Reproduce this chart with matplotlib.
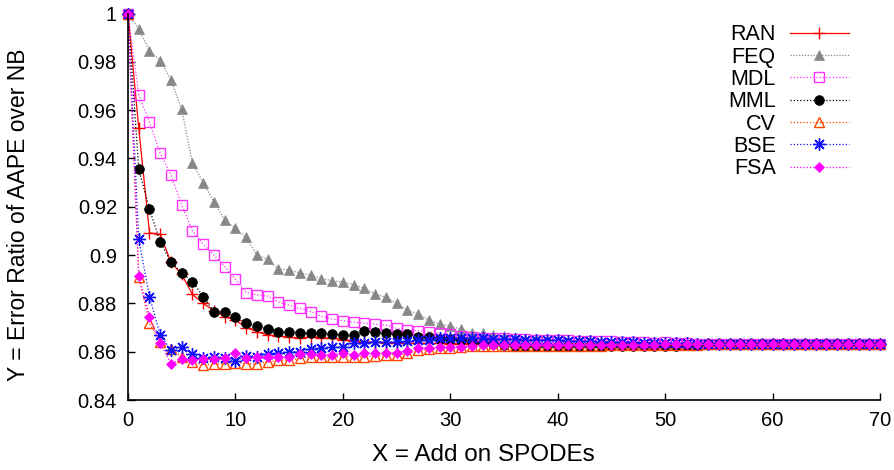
import matplotlib
matplotlib.use("Agg")
import matplotlib.pyplot as plt
from matplotlib.ticker import FuncFormatter, MultipleLocator

plt.rcParams['font.family'] = ['Liberation Sans', 'DejaVu Sans']

x = list(range(0, 71))

tail = [0.863] * 17  # x = 54..70

ran = [1.0, 0.9526, 0.9092, 0.9086, 0.897, 0.892, 0.8837, 0.880, 0.877, 0.8745,
       0.873, 0.870, 0.8683, 0.8669, 0.8665, 0.866, 0.8655, 0.8662, 0.8658, 0.8655,
       0.865, 0.8645, 0.8641, 0.864, 0.8638, 0.8636, 0.8635, 0.8635, 0.8634, 0.8634,
       0.8633, 0.8633, 0.8633, 0.8632, 0.8632, 0.8632, 0.8632, 0.8631, 0.8631, 0.8631,
       0.8631, 0.8631, 0.8631, 0.8630, 0.8630, 0.8630, 0.8630, 0.8630, 0.8630, 0.8630,
       0.8630, 0.8630, 0.8630, 0.8630] + tail

feq = [1.0, 0.9936, 0.9846, 0.9805, 0.9725, 0.9603, 0.938, 0.930, 0.922, 0.9145,
       0.911, 0.9073, 0.900, 0.8983, 0.8942, 0.8938, 0.8926, 0.8917, 0.8902, 0.8894,
       0.8887, 0.8878, 0.8862, 0.8839, 0.8825, 0.880, 0.8772, 0.8756, 0.8731, 0.8714,
       0.8706, 0.8693, 0.8679, 0.8676, 0.8670, 0.8663, 0.8658, 0.8654, 0.8651, 0.8649,
       0.8647, 0.8645, 0.8643, 0.8641, 0.8639, 0.8637, 0.8636, 0.8635, 0.8634, 0.8633,
       0.8632, 0.8631, 0.8631, 0.8630] + tail

mdl = [1.0, 0.9663, 0.955, 0.9421, 0.9331, 0.9207, 0.910, 0.9044, 0.900, 0.8952,
       0.890, 0.8844, 0.8835, 0.883, 0.8806, 0.8792, 0.8779, 0.8766, 0.8747, 0.8735,
       0.8728, 0.8723, 0.8718, 0.8714, 0.871, 0.8697, 0.869, 0.8687, 0.8683, 0.8676,
       0.8673, 0.8666, 0.8662, 0.8658, 0.8658, 0.8655, 0.8653, 0.8652, 0.865, 0.865,
       0.8648, 0.8647, 0.8646, 0.8645, 0.8644, 0.8643, 0.8642, 0.864, 0.864, 0.8638,
       0.8640, 0.8636, 0.8635, 0.8633] + tail

mml = [1.0, 0.9356, 0.919, 0.9055, 0.897, 0.8927, 0.889, 0.8828, 0.8765, 0.8765,
       0.8745, 0.8717, 0.8706, 0.8694, 0.8683, 0.8683, 0.8679, 0.8677, 0.8677, 0.8675,
       0.867, 0.8668, 0.8686, 0.868, 0.8676, 0.8672, 0.8672, 0.8662, 0.866, 0.8653,
       0.8653, 0.8648, 0.8641, 0.8635, 0.863, 0.8627, 0.8625, 0.8624, 0.8623, 0.8622,
       0.8622, 0.8622, 0.8622, 0.8622, 0.8622, 0.8622, 0.8622, 0.8622, 0.8622, 0.8622,
       0.8624, 0.8625, 0.8626, 0.8628] + tail

cv = [1.0, 0.891, 0.8717, 0.864, 0.8612, 0.8578, 0.8558, 0.8544, 0.855, 0.855,
      0.8555, 0.855, 0.855, 0.8558, 0.8564, 0.8566, 0.8572, 0.858, 0.8576, 0.8576,
      0.858, 0.858, 0.858, 0.8583, 0.8585, 0.8588, 0.8595, 0.8605, 0.861, 0.8614,
      0.8617, 0.862, 0.8622, 0.8624, 0.8623, 0.8623, 0.8623, 0.8623, 0.8624, 0.8624,
      0.8624, 0.8624, 0.8625, 0.8625, 0.8625, 0.8626, 0.8626, 0.8626, 0.8627, 0.8627,
      0.8628, 0.8628, 0.8629, 0.8629] + tail

bse = [1.0, 0.9065, 0.8827, 0.8669, 0.8607, 0.862, 0.859, 0.8572, 0.8579, 0.8572,
       0.856, 0.8583, 0.858, 0.859, 0.8593, 0.86, 0.86, 0.861, 0.8614, 0.8618,
       0.862, 0.8635, 0.8636, 0.864, 0.864, 0.8641, 0.8643, 0.8648, 0.8648, 0.8655,
       0.8655, 0.8655, 0.8655, 0.8655, 0.8653, 0.8652, 0.8651, 0.865, 0.865, 0.8649,
       0.8647, 0.8645, 0.8644, 0.8643, 0.8642, 0.8641, 0.864, 0.8639, 0.8638, 0.8637,
       0.8636, 0.8635, 0.8634, 0.8633] + tail

fsa = [1.0, 0.8913, 0.8745, 0.8635, 0.855, 0.857, 0.8565, 0.857, 0.857, 0.8575,
       0.8596, 0.8572, 0.858, 0.858, 0.858, 0.858, 0.8589, 0.8589, 0.8587, 0.8586,
       0.8593, 0.8588, 0.8593, 0.8593, 0.8593, 0.8596, 0.8604, 0.8614, 0.8614, 0.8618,
       0.862, 0.862, 0.8624, 0.8628, 0.8628, 0.8628, 0.8628, 0.8628, 0.8628, 0.8628,
       0.8628, 0.8628, 0.8628, 0.8628, 0.8629, 0.8629, 0.8629, 0.8629, 0.8629, 0.8629,
       0.8630, 0.8630, 0.8630, 0.8630] + tail

labels = ["RAN", "FEQ", "MDL", "MML", "CV", "BSE", "FSA"]
series = [ran, feq, mdl, mml, cv, bse, fsa]

dot = (0, (1, 1.6))
styles = [
    dict(color="#ff0000", ls="-", marker="+", ms=8, mew=1.0, mfc="#ff0000"),
    dict(color="#888888", ls=(0, (1, 1.3)), marker="^", ms=6.5, mew=0.5, mfc="#888888"),
    dict(color="#ff33ff", ls=dot, marker="s", ms=7, mew=1.0, mfc="none"),
    dict(color="#000000", ls=dot, marker="o", ms=7, mew=0.5, mfc="#000000"),
    dict(color="#ff4500", ls=dot, marker="^", ms=7, mew=1.0, mfc="none"),
    dict(color="#1010ff", ls=dot, marker=(8, 2, 0), ms=9, mew=1.0, mfc="#1010ff"),
    dict(color="#ff00ff", ls=dot, marker="D", ms=5.5, mew=0.5, mfc="#ff00ff"),
]

fig = plt.figure(figsize=(8.94, 4.70), dpi=100)
ax = fig.add_axes([128 / 894, 1 - 400 / 470, (880 - 128) / 894, (400 - 13.5) / 470])

for lab, ys, st in zip(labels, series, styles):
    ax.plot(x, ys, label=lab, lw=0.9, color=st["color"], linestyle=st["ls"],
            marker=st["marker"], markersize=st["ms"], markeredgewidth=st["mew"],
            markerfacecolor=st["mfc"], markeredgecolor=st["color"], clip_on=False)

ax.set_xlim(0, 70)
ax.set_ylim(0.84, 1.0)
ax.xaxis.set_major_locator(MultipleLocator(10))
ax.yaxis.set_major_locator(MultipleLocator(0.02))
ax.yaxis.set_major_formatter(FuncFormatter(lambda v, p: "%g" % round(v, 4)))
ax.tick_params(direction="in", length=5, width=1, labelsize=14.5, pad=8)
for s in ["top", "right"]:
    ax.spines[s].set_visible(False)
for s in ["left", "bottom"]:
    ax.spines[s].set_linewidth(1.2)

ax.set_xlabel("X = Add on SPODEs", fontsize=17.5)
ax.set_ylabel("Y = Error Ratio of AAPE over NB", fontsize=16.5)
ax.xaxis.set_label_coords(0.472, -0.142)
ax.yaxis.set_label_coords(-0.146, 0.479)
ax.xaxis.label.set_va("center")
ax.yaxis.label.set_va("center")

leg = ax.legend(loc="upper right", frameon=False, markerfirst=False, fontsize=15.5,
                handlelength=2.75, handletextpad=0.65, labelspacing=0.06,
                borderaxespad=0.0, bbox_to_anchor=(0.970, 0.994))

fig.savefig("out.png", dpi=100)
